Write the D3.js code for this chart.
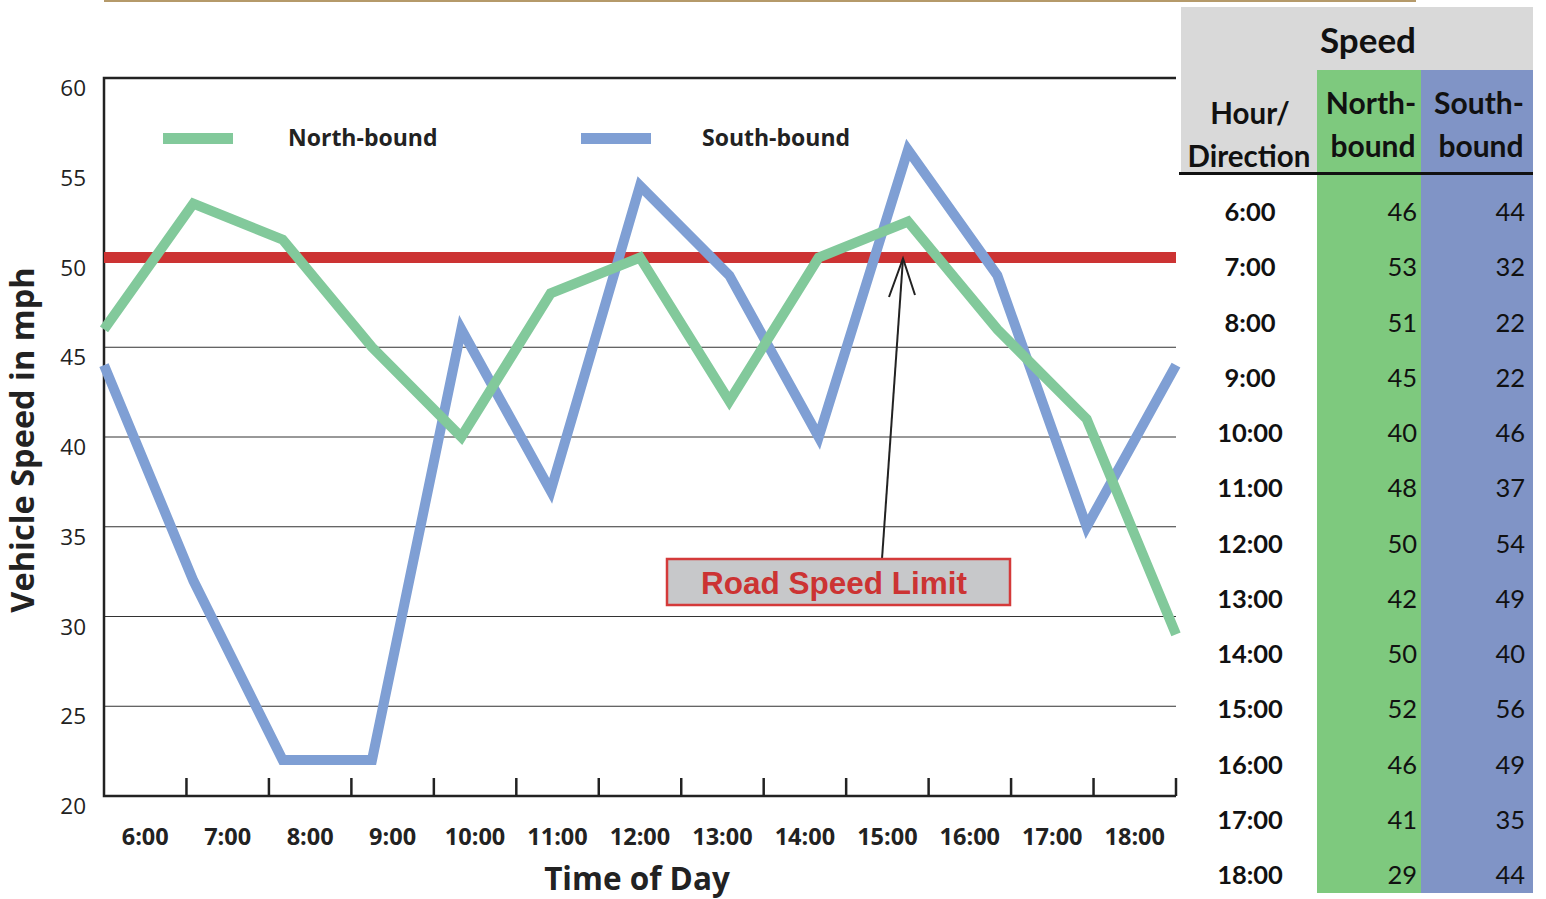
<!DOCTYPE html>
<html><head><meta charset="utf-8">
<script src="https://cdn.jsdelivr.net/npm/d3@7"></script>
<style>body{margin:0;background:#fff;}svg{display:block;}</style>
</head><body>
<svg id="c" width="1546" height="899"></svg>
<script>
const hours = ["6:00","7:00","8:00","9:00","10:00","11:00","12:00","13:00","14:00","15:00","16:00","17:00","18:00"];
const northBound = [46,53,51,45,40,48,50,42,50,52,46,41,29];
const southBound = [44,32,22,22,46,37,54,49,40,56,49,35,44];
const yTicks = [20,25,30,35,40,45,50,55,60];
const gridTicks = [25,30,35,40,45];
const speedLimit = 50;

const svg = d3.select("#c");
const L=104, R=1176, T=78, B=796;
const y = d3.scaleLinear().domain([20,60]).range([B,T]);
const xp = d3.scalePoint().domain(hours).range([L,R]);
const xb = d3.scaleBand().domain(hours).range([L,R]);
const chartFont = "'Open Sans', 'Noto Sans', sans-serif";
const tableFont = "Lato, 'Open Sans', sans-serif";

// top thin strip artifact
svg.append("rect").attr("x",104).attr("y",0).attr("width",1312).attr("height",2).attr("fill","#b59a6a");

// gridlines
svg.append("g").selectAll("line").data(gridTicks).join("line")
  .attr("x1",L).attr("x2",R).attr("y1",d=>y(d)).attr("y2",d=>y(d))
  .attr("stroke","#333").attr("stroke-width",1);

// y axis labels
svg.append("g").selectAll("text").data(yTicks).join("text")
  .attr("x",86).attr("y",d=>y(d)+18).attr("text-anchor","end")
  .attr("font-family",chartFont).attr("font-size",22.5).attr("fill","#222").text(d=>d);

// axes frame
svg.append("path").attr("d",`M${R},${T}H${L}V${B}H${R}`).attr("fill","none").attr("stroke","#222").attr("stroke-width",2.5);
// x ticks
const edges = hours.map(h=>xb(h)).slice(1).concat([R]);
svg.append("g").selectAll("line").data(edges).join("line")
  .attr("x1",d=>d).attr("x2",d=>d).attr("y1",B-18).attr("y2",B)
  .attr("stroke","#222").attr("stroke-width",2.5);
svg.append("g").selectAll("text").data(hours).join("text")
  .attr("x",d=>xb(d)+xb.bandwidth()/2).attr("y",845).attr("text-anchor","middle")
  .attr("font-family",chartFont).attr("font-weight","bold").attr("font-size",23.5).attr("fill","#222").text(d=>d);

// axis titles
svg.append("text").attr("x",637).attr("y",890).attr("text-anchor","middle")
  .attr("font-family",chartFont).attr("font-weight","bold").attr("font-size",31.5).attr("fill","#222").text("Time of Day");
svg.append("text").attr("transform","translate(34,440) rotate(-90)").attr("text-anchor","middle")
  .attr("font-family",chartFont).attr("font-weight","bold").attr("font-size",32.5).attr("fill","#222").text("Vehicle Speed  in mph");

// speed limit
svg.append("line").attr("x1",L).attr("x2",R).attr("y1",y(speedLimit)).attr("y2",y(speedLimit))
  .attr("stroke","#cc3333").attr("stroke-width",11);

// series
const line = d3.line().x((d,i)=>xp(hours[i])).y(d=>y(d));
svg.append("path").datum(southBound).attr("d",line).attr("fill","none")
  .attr("stroke","#7f9fd4").attr("stroke-width",10).attr("stroke-linejoin","miter");
svg.append("path").datum(northBound).attr("d",line).attr("fill","none")
  .attr("stroke","#82c99b").attr("stroke-width",10).attr("stroke-linejoin","miter");

// legend
const leg = [{n:"North-bound",c:"#82c99b",x:163,tx:288},{n:"South-bound",c:"#7f9fd4",x:581,tx:702}];
leg.forEach(l=>{
  svg.append("rect").attr("x",l.x).attr("y",133).attr("width",70).attr("height",11).attr("fill",l.c);
  svg.append("text").attr("x",l.tx).attr("y",146).attr("font-family",chartFont).attr("font-weight","bold")
    .attr("font-size",23).attr("fill","#222").text(l.n);
});

// annotation
const tipX=903, tipY=y(speedLimit)+1;
svg.append("line").attr("x1",882).attr("y1",559).attr("x2",tipX).attr("y2",tipY).attr("stroke","#222").attr("stroke-width",2);
svg.append("path").attr("d",`M889,297L${tipX},${tipY}L915,295`).attr("fill","none").attr("stroke","#222").attr("stroke-width",2);
svg.append("rect").attr("x",667).attr("y",559).attr("width",343).attr("height",46)
  .attr("fill","#c7c8ca").attr("stroke","#d43a3a").attr("stroke-width",2.5);
svg.append("text").attr("x",834).attr("y",594).attr("text-anchor","middle")
  .attr("font-family","'Liberation Sans', Arial, sans-serif").attr("font-weight","bold").attr("font-size",31.5)
  .attr("fill","#cc3333").text("Road Speed Limit");

// table
const tx0=1181, tx1=1317, tx2=1421, tx3=1533;
const green="#7ec97e", blue="#8094c6", grey="#d9d9d9";
svg.append("rect").attr("x",tx0).attr("y",7).attr("width",tx3-tx0).attr("height",63).attr("fill",grey);
svg.append("rect").attr("x",tx0).attr("y",70).attr("width",tx1-tx0).attr("height",104).attr("fill",grey);
svg.append("rect").attr("x",tx1).attr("y",70).attr("width",tx2-tx1).attr("height",823).attr("fill",green);
svg.append("rect").attr("x",tx2).attr("y",70).attr("width",tx3-tx2).attr("height",823).attr("fill",blue);
svg.append("rect").attr("x",1179).attr("y",172).attr("width",tx3-1179).attr("height",3).attr("fill","#111");

const th = (t,x,yy,size)=>svg.append("text").attr("x",x).attr("y",yy).attr("text-anchor","middle")
  .attr("font-family",tableFont).attr("font-weight","bold").attr("font-size",size).attr("fill","#111").text(t);
th("Speed",1368,53,35);
th("Hour/",1250,124,29.5); th("Direction",1249,167,29.5);
th("North-",1371,114,30); th("bound",1373,157,30);
th("South-",1479,114,30); th("bound",1481,157,30);

const rowY = i => 212 + i*55.25;
const rows = svg.append("g");
hours.forEach((h,i)=>{
  rows.append("text").attr("x",1250).attr("y",rowY(i)+9).attr("text-anchor","middle")
    .attr("font-family",tableFont).attr("font-weight","bold").attr("font-size",25.5).attr("fill","#111").text(h);
  rows.append("text").attr("x",1417).attr("y",rowY(i)+9).attr("text-anchor","end")
    .attr("font-family",tableFont).attr("font-size",25.5).attr("fill","#111").text(northBound[i]);
  rows.append("text").attr("x",1525).attr("y",rowY(i)+9).attr("text-anchor","end")
    .attr("font-family",tableFont).attr("font-size",25.5).attr("fill","#111").text(southBound[i]);
});
</script>
</body></html>
